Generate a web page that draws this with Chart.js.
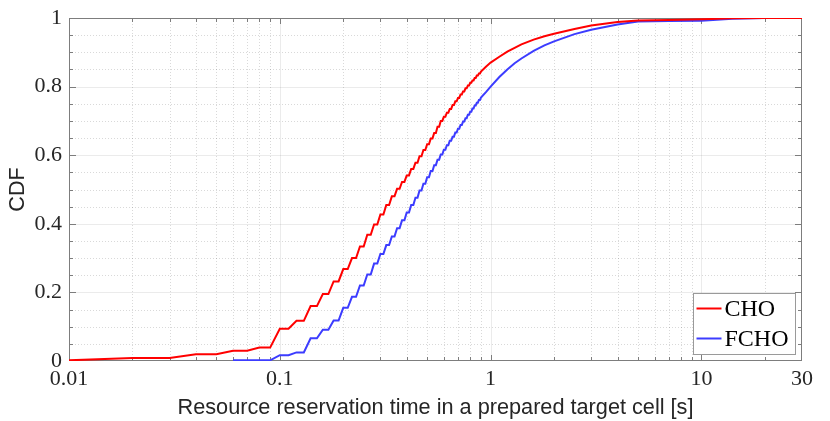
<!DOCTYPE html>
<html>
<head>
<meta charset="utf-8">
<script src="https://cdn.jsdelivr.net/npm/chart.js@4.4.1/dist/chart.umd.min.js"></script>
<style>
  html, body { margin: 0; padding: 0; background: #ffffff; }
  #wrap { position: relative; width: 830px; height: 421px; }
</style>
</head>
<body>
<div id="wrap"><canvas id="c"></canvas></div>
<script>
// ---------- data ----------
const seriesLabels = ['CHO', 'FCHO'];

const xValues = [
  0.01, 0.02, 0.03, 0.04, 0.05, 0.06, 0.07, 0.08, 0.09, 0.10,
  0.11, 0.12, 0.13, 0.14, 0.15, 0.16, 0.17, 0.18, 0.19, 0.20,
  0.21, 0.22, 0.23, 0.24, 0.25, 0.26, 0.27, 0.28, 0.29, 0.30,
  0.31, 0.32, 0.33, 0.34, 0.35, 0.36, 0.37, 0.38, 0.39, 0.40,
  0.41, 0.42, 0.43, 0.44, 0.45, 0.46, 0.47, 0.48, 0.49, 0.50,
  0.51, 0.52, 0.53, 0.54, 0.55, 0.56, 0.57, 0.58, 0.59, 0.60,
  0.61, 0.62, 0.63, 0.64, 0.65, 0.66, 0.67, 0.68, 0.69, 0.70,
  0.71, 0.72, 0.73, 0.74, 0.75, 0.76, 0.77, 0.78, 0.79, 0.80,
  0.81, 0.82, 0.83, 0.84, 0.85, 0.86, 0.87, 0.88, 0.89, 0.90,
  0.95, 1.0, 1.1, 1.2, 1.3, 1.4, 1.6, 1.8, 2.0, 2.5,
  3.0, 4.0, 5.0, 7.0, 10, 14, 20, 30
];

const choValues = [
  0.002, 0.009, 0.009, 0.020, 0.020, 0.030, 0.030, 0.039, 0.039, 0.094,
  0.094, 0.117, 0.117, 0.160, 0.160, 0.195, 0.195, 0.232, 0.232, 0.268,
  0.268, 0.300, 0.300, 0.334, 0.334, 0.368, 0.368, 0.398, 0.398, 0.427,
  0.427, 0.455, 0.455, 0.480, 0.480, 0.502, 0.502, 0.522, 0.522, 0.541,
  0.541, 0.560, 0.560, 0.578, 0.578, 0.597, 0.597, 0.615, 0.615, 0.632,
  0.632, 0.649, 0.649, 0.665, 0.665, 0.683, 0.683, 0.700, 0.700, 0.712,
  0.712, 0.724, 0.724, 0.735, 0.735, 0.746, 0.746, 0.757, 0.757, 0.767,
  0.767, 0.777, 0.777, 0.786, 0.786, 0.795, 0.795, 0.803, 0.803, 0.811,
  0.811, 0.818, 0.818, 0.825, 0.825, 0.832, 0.832, 0.838, 0.838, 0.844,
  0.858, 0.870, 0.887, 0.902, 0.913, 0.923, 0.937, 0.947, 0.954, 0.968,
  0.978, 0.988, 0.993, 0.994, 0.996, 0.999, 1.000, 1.000
];

const fchoValues = [
  null,  null,  null,  null,  null,  0.002, 0.002, 0.002, 0.002, 0.017,
  0.017, 0.025, 0.025, 0.066, 0.066, 0.091, 0.091, 0.118, 0.118, 0.155,
  0.155, 0.187, 0.187, 0.220, 0.220, 0.252, 0.252, 0.284, 0.284, 0.312,
  0.312, 0.338, 0.338, 0.363, 0.363, 0.387, 0.387, 0.410, 0.410, 0.433,
  0.433, 0.455, 0.455, 0.476, 0.476, 0.497, 0.497, 0.517, 0.517, 0.536,
  0.536, 0.554, 0.554, 0.571, 0.571, 0.587, 0.587, 0.602, 0.602, 0.616,
  0.616, 0.629, 0.629, 0.642, 0.642, 0.654, 0.654, 0.666, 0.666, 0.677,
  0.677, 0.688, 0.688, 0.698, 0.698, 0.708, 0.708, 0.718, 0.718, 0.727,
  0.727, 0.736, 0.736, 0.745, 0.745, 0.753, 0.753, 0.761, 0.761, 0.768,
  0.784, 0.800, 0.828, 0.850, 0.868, 0.882, 0.904, 0.920, 0.932, 0.953,
  0.966, 0.981, 0.990, 0.991, 0.992, 0.998, 1.000, 1.000
];

const xTickValues = [0.01, 0.1, 1, 10, 30];
const xTickLabels = ['0.01', '0.1', '1', '10', '30'];
const yTickValues = [0, 0.2, 0.4, 0.6, 0.8, 1];
const yTickLabels = ['0', '0.2', '0.4', '0.6', '0.8', '1'];
const xAxisTitle = 'Resource reservation time in a prepared target cell [s]';
const yAxisTitle = 'CDF';

// ---------- grid helper values ----------
const xMajorGrid = [0.01, 0.1, 1, 10];
const xMinorGrid = [];
[0.01, 0.1, 1, 10].forEach(d => { for (let m = 2; m <= 9; m++) { const v = +(d * m).toPrecision(3); if (v < 30) xMinorGrid.push(v); } });
const yMajorGrid = [0.2, 0.4, 0.6, 0.8];
const yMinorGrid = [];
for (let k = 1; k < 20; k++) { if (k % 4 !== 0) yMinorGrid.push(+(k * 0.05).toFixed(2)); }

const colors = ['rgb(255,0,0)', 'rgb(60,60,255)'];
const serif = '"Liberation Serif", "Times New Roman", serif';
const sans = '"Liberation Sans", Arial, sans-serif';
const textColor = '#262626';
const axisColor = '#7d7d7d';

function toPoints(vals) {
  const pts = [];
  xValues.forEach((x, i) => { if (vals[i] !== null) pts.push({ x: x, y: vals[i] }); });
  return pts;
}

const framePlugin = {
  id: 'frame',
  beforeDatasetsDraw(chart) {
    const { ctx, chartArea: a, scales: { x, y } } = chart;
    ctx.save();
    ctx.lineWidth = 1;
    const vline = (v, dash, col) => {
      const p = Math.round(x.getPixelForValue(v)) + 0.5;
      ctx.setLineDash(dash); ctx.strokeStyle = col;
      ctx.beginPath(); ctx.moveTo(p, a.top); ctx.lineTo(p, a.bottom); ctx.stroke();
    };
    const hline = (v, dash, col) => {
      const p = Math.round(y.getPixelForValue(v)) + 0.5;
      ctx.setLineDash(dash); ctx.strokeStyle = col;
      ctx.beginPath(); ctx.moveTo(a.left, p); ctx.lineTo(a.right, p); ctx.stroke();
    };
    xMinorGrid.forEach(v => vline(v, [1, 2], 'rgba(0,0,0,0.15)'));
    yMinorGrid.forEach(v => hline(v, [1, 2], 'rgba(0,0,0,0.15)'));
    xMajorGrid.forEach(v => vline(v, [], 'rgba(0,0,0,0.08)'));
    yMajorGrid.forEach(v => hline(v, [], 'rgba(0,0,0,0.08)'));

    // ticks (inward, all four sides) and box, drawn under the curves
    ctx.setLineDash([]);
    ctx.strokeStyle = axisColor;
    ctx.beginPath();
    const xt = (v, len) => {
      const p = Math.round(x.getPixelForValue(v)) + 0.5;
      ctx.moveTo(p, a.bottom); ctx.lineTo(p, a.bottom - len);
      ctx.moveTo(p, a.top); ctx.lineTo(p, a.top + len);
    };
    const yt = (v, len) => {
      const p = Math.round(y.getPixelForValue(v)) + 0.5;
      ctx.moveTo(a.left, p); ctx.lineTo(a.left + len, p);
      ctx.moveTo(a.right, p); ctx.lineTo(a.right - len, p);
    };
    xMajorGrid.forEach(v => xt(v, 6));
    xMinorGrid.forEach(v => xt(v, 4));
    yMajorGrid.forEach(v => yt(v, 7));
    yMinorGrid.forEach(v => yt(v, 4));
    ctx.stroke();
    const L = Math.round(a.left) + 0.5, R = Math.round(a.right) - 0.5;
    const T = Math.round(a.top) + 0.5, B = Math.round(a.bottom) - 0.5;
    ctx.strokeRect(L, T, R - L, B - T);
    ctx.restore();
  },
  afterDatasetsDraw(chart) {
    const { ctx, chartArea: a } = chart;
    ctx.save();
    ctx.setLineDash([]);
    ctx.lineWidth = 1;
    // legend
    const bw = 102, bh = 61;
    const bx = Math.round(a.right) - 7 - bw + 0.5;
    const by = Math.round(a.bottom) - 7 - bh + 0.5;
    ctx.fillStyle = '#ffffff';
    ctx.fillRect(bx, by, bw, bh);
    ctx.strokeStyle = '#9a9a9a';
    ctx.strokeRect(bx, by, bw, bh);
    ctx.font = '24px ' + serif;
    ctx.textBaseline = 'alphabetic';
    ctx.textAlign = 'left';
    chart.data.datasets.forEach((ds, i) => {
      const ly = by + 15 + i * 30;
      ctx.strokeStyle = ds.borderColor;
      ctx.lineWidth = 2;
      ctx.beginPath(); ctx.moveTo(bx + 3, ly); ctx.lineTo(bx + 28, ly); ctx.stroke();
      ctx.fillStyle = '#000000';
      ctx.fillText(ds.label, bx + 31, ly + 7);
    });
    ctx.restore();
  }
};

new Chart(document.getElementById('c'), {
  type: 'line',
  data: {
    datasets: [
      { label: seriesLabels[0], data: toPoints(choValues), borderColor: colors[0], backgroundColor: colors[0], borderWidth: 2, pointRadius: 0, tension: 0, fill: false },
      { label: seriesLabels[1], data: toPoints(fchoValues), borderColor: colors[1], backgroundColor: colors[1], borderWidth: 2, pointRadius: 0, tension: 0, fill: false }
    ]
  },
  options: {
    responsive: true,
    maintainAspectRatio: false,
    animation: false,
    events: [],
    layout: { padding: { top: 11, right: 28, left: 0, bottom: 0 } },
    plugins: { legend: { display: false }, tooltip: { enabled: false } },
    scales: {
      x: {
        type: 'logarithmic',
        min: 0.01,
        max: 30,
        afterBuildTicks: s => { s.ticks = xTickValues.map(v => ({ value: v })); },
        afterFit: s => { s.height = 60; },
        grid: { display: false, drawTicks: false },
        border: { display: false },
        ticks: {
          autoSkip: false, maxRotation: 0, padding: 5, color: textColor,
          font: { family: serif, size: 22, lineHeight: 1.2 },
          callback: (v, i) => xTickLabels[i]
        },
        title: { display: true, text: xAxisTitle, color: textColor, font: { family: sans, size: 21.7, lineHeight: 1.2 }, padding: { top: 0, bottom: 0 } }
      },
      y: {
        type: 'linear',
        min: 0,
        max: 1,
        afterBuildTicks: s => { s.ticks = yTickValues.map(v => ({ value: v })); },
        afterFit: s => { s.width = 69; },
        grid: { display: false, drawTicks: false },
        border: { display: false },
        ticks: {
          padding: 7, color: textColor,
          font: { family: serif, size: 22, lineHeight: 1.0 },
          callback: (v, i) => yTickLabels[i]
        },
        title: { display: true, text: yAxisTitle, color: textColor, font: { family: sans, size: 21.7, lineHeight: 1.2 }, padding: { top: 5, bottom: 0 } }
      }
    }
  },
  plugins: [framePlugin]
});
</script>
</body>
</html>
